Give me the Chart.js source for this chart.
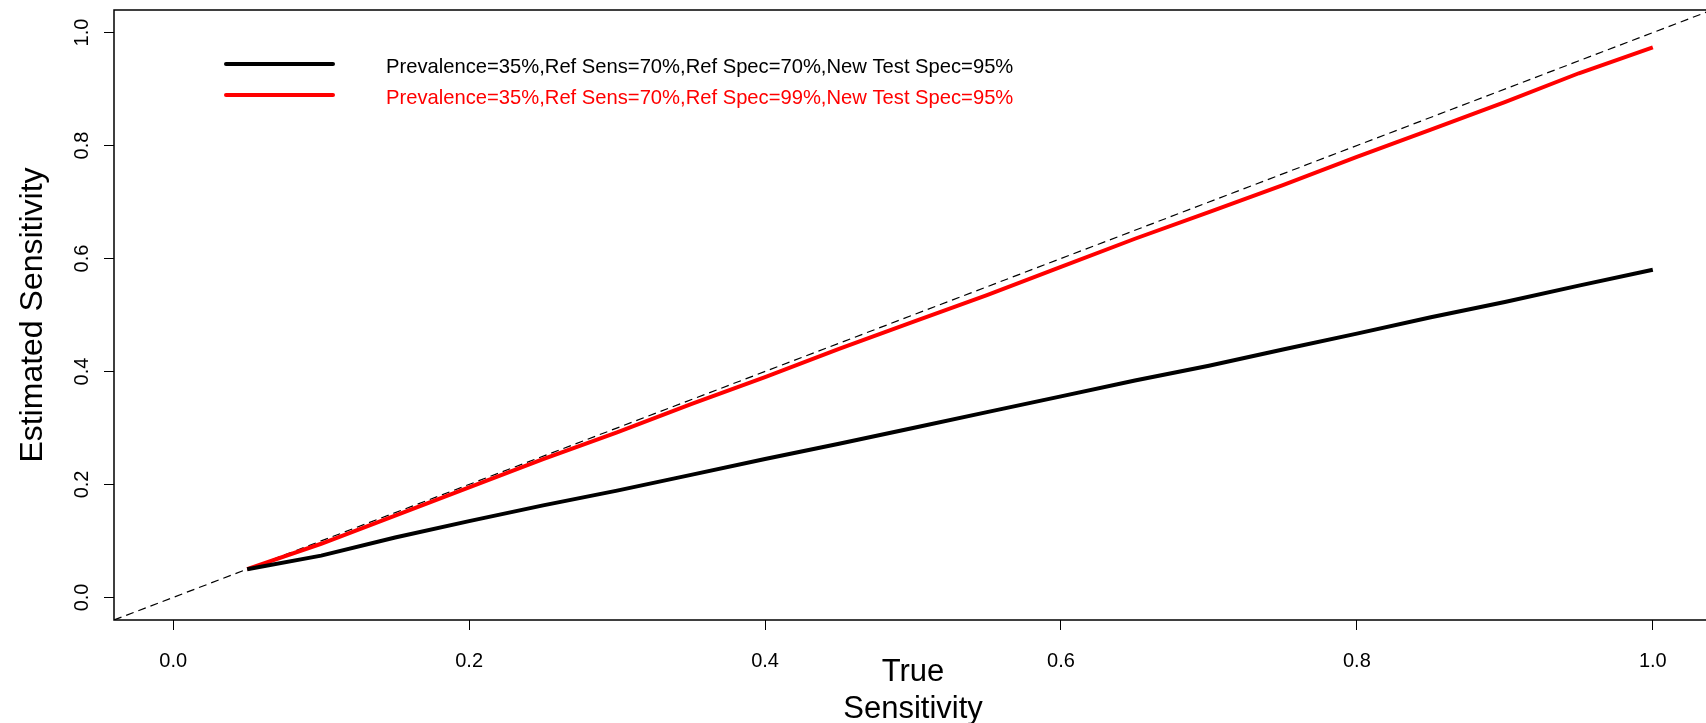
<!DOCTYPE html>
<html>
<head>
<meta charset="utf-8">
<title>Estimated vs True Sensitivity</title>
<script src="https://cdn.jsdelivr.net/npm/chart.js@4.4.1/dist/chart.umd.min.js"></script>
<style>
    html, body { margin: 0; padding: 0; background: #fff; overflow: hidden; }
    #wrap { width: 1720px; height: 723px; }
</style>
</head>
<body>
<div id="wrap"><canvas id="sens-plot" width="1720" height="723"></canvas></div>
<script>
// true sensitivity on the x axis
const trueSens = [0.05, 0.10, 0.15, 0.20, 0.25, 0.30, 0.35, 0.40, 0.45, 0.50,
                  0.55, 0.60, 0.65, 0.70, 0.75, 0.80, 0.85, 0.90, 0.95, 1.00];
// estimated sensitivity, ref spec 70%
const estSpec70 = [0.050, 0.074, 0.106, 0.135, 0.163, 0.189, 0.217, 0.245, 0.272, 0.300,
                   0.328, 0.356, 0.384, 0.410, 0.439, 0.467, 0.496, 0.523, 0.552, 0.580];
// estimated sensitivity, ref spec 99%
const estSpec99 = [0.050, 0.095, 0.145, 0.195, 0.245, 0.292, 0.342, 0.390, 0.440, 0.488,
                   0.535, 0.585, 0.635, 0.682, 0.730, 0.780, 0.828, 0.877, 0.928, 0.974];
// reference diagonal y = x
const diagX = [-0.04, 1.04];
const diagY = [-0.04, 1.04];

const tickValues = [0.0, 0.2, 0.4, 0.6, 0.8, 1.0];
const tickLabels = ['0.0', '0.2', '0.4', '0.6', '0.8', '1.0'];

const seriesLabels = [
    'Prevalence=35%,Ref Sens=70%,Ref Spec=70%,New Test Spec=95%',
    'Prevalence=35%,Ref Sens=70%,Ref Spec=99%,New Test Spec=95%'
];

const FONT = "'Liberation Sans', Arial, Helvetica, sans-serif";

function toPoints(xs, ys) {
    return xs.map((x, i) => ({ x: x, y: ys[i] }));
}

// box around the plot region + legend in the top left
const boxAndLegend = {
    id: 'boxAndLegend',
    afterDraw(chart) {
        const ctx = chart.ctx;
        const a = chart.chartArea;
        ctx.save();
        ctx.strokeStyle = '#000';
        ctx.lineWidth = 1.5;
        ctx.strokeRect(a.left, a.top, a.right - a.left, a.bottom - a.top);

        const lineY = [64, 95];
        const textY = [67, 98];
        ctx.font = '20.2px ' + FONT;
        ctx.textBaseline = 'middle';
        ctx.textAlign = 'left';
        for (let i = 0; i < 2; i++) {
            const ds = chart.data.datasets[i];
            ctx.strokeStyle = ds.borderColor;
            ctx.lineWidth = 4;
            ctx.lineCap = 'round';
            ctx.beginPath();
            ctx.moveTo(226, lineY[i]);
            ctx.lineTo(333, lineY[i]);
            ctx.stroke();
            ctx.fillStyle = ds.borderColor;
            ctx.fillText(ds.label, 386, textY[i]);
        }
        ctx.restore();
    }
};

const fixedTicks = (scale) => {
    scale.ticks = tickValues.map(v => ({ value: v }));
};

new Chart(document.getElementById('sens-plot'), {
    type: 'scatter',
    data: {
        datasets: [
            {
                label: seriesLabels[0],
                data: toPoints(trueSens, estSpec70),
                showLine: true,
                borderColor: '#000000',
                borderWidth: 4,
                pointRadius: 0,
                tension: 0
            },
            {
                label: seriesLabels[1],
                data: toPoints(trueSens, estSpec99),
                showLine: true,
                borderColor: '#ff0000',
                borderWidth: 4,
                pointRadius: 0,
                tension: 0
            },
            {
                label: 'y = x',
                data: toPoints(diagX, diagY),
                showLine: true,
                borderColor: '#000000',
                borderWidth: 1.2,
                borderDash: [8, 5],
                pointRadius: 0
            }
        ]
    },
    options: {
        responsive: false,
        animation: false,
        devicePixelRatio: 1,
        layout: { padding: { top: 10, right: 8, bottom: 0, left: 0 } },
        plugins: {
            legend: { display: false },
            tooltip: { enabled: false }
        },
        scales: {
            x: {
                type: 'linear',
                min: -0.04,
                max: 1.04,
                afterBuildTicks: fixedTicks,
                afterFit: (s) => {
                    s.height = 103;
                    s.paddingLeft = 0;
                    s.paddingRight = 0;
                },
                border: { display: false },
                grid: {
                    drawOnChartArea: false,
                    drawTicks: true,
                    tickLength: 10,
                    color: '#000',
                    lineWidth: 1
                },
                ticks: {
                    padding: 19,
                    color: '#000',
                    font: { family: FONT, size: 20 },
                    maxRotation: 0,
                    callback: (v, i) => tickLabels[i]
                },
                title: {
                    display: true,
                    text: ['True', 'Sensitivity'],
                    color: '#000',
                    font: { family: FONT, size: 31, lineHeight: 1.2 },
                    padding: { top: 0, bottom: -5 }
                }
            },
            y: {
                type: 'linear',
                min: -0.04,
                max: 1.04,
                afterBuildTicks: fixedTicks,
                afterFit: (s) => {
                    s.width = 114;
                    s.paddingTop = 0;
                    s.paddingBottom = 0;
                },
                border: { display: false },
                grid: {
                    drawOnChartArea: false,
                    drawTicks: true,
                    tickLength: 10,
                    color: '#000',
                    lineWidth: 1
                },
                ticks: {
                    padding: 8,
                    color: '#000',
                    minRotation: 90,
                    maxRotation: 90,
                    crossAlign: 'center',
                    font: { family: FONT, size: 20 },
                    callback: (v, i) => tickLabels[i]
                },
                title: {
                    display: true,
                    text: 'Estimated Sensitivity',
                    color: '#000',
                    font: { family: FONT, size: 32, lineHeight: 1.2 },
                    padding: { top: 14, bottom: 0 }
                }
            }
        }
    },
    plugins: [boxAndLegend]
});
</script>
</body>
</html>
